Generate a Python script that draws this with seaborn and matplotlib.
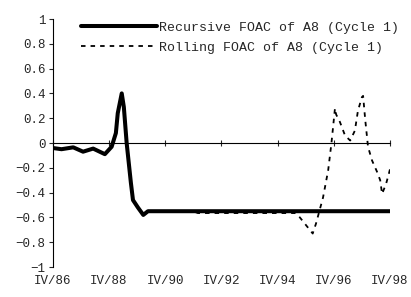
import numpy as np
import pandas as pd
import seaborn as sns
import matplotlib.pyplot as plt

# months since IV/86
rec_month = [0, 3.8, 8.8, 13, 17.3, 22.3, 25.2, 27, 27.8, 29.5, 30.4, 31.6,
             33.4, 34.3, 36.4, 38.7, 40.7, 60, 90, 120, 144]
rec_value = [-0.04, -0.05, -0.035, -0.07, -0.045, -0.09, -0.03, 0.08, 0.24, 0.40, 0.29, 0.0,
             -0.32, -0.46, -0.52, -0.58, -0.55, -0.55, -0.55, -0.55, -0.55]

roll_month = [40.7, 60, 62, 103.5, 105.5, 111, 112.4, 115.4, 117.6, 119, 119.7, 120.5,
              121, 122.6, 124.8, 127, 129, 130.3, 132, 132.5, 133.4, 134.6, 136.3,
              138.4, 139.8, 140.6, 142.3, 143.6, 144.9]
roll_value = [-0.55, -0.55, -0.565, -0.565, -0.60, -0.73, -0.65, -0.44, -0.22, 0.0, 0.13, 0.28,
              0.23, 0.17, 0.06, 0.02, 0.10, 0.26, 0.37, 0.38, 0.19, -0.03, -0.14,
              -0.23, -0.30, -0.41, -0.33, -0.24, -0.14]

tick_months = [0, 24, 48, 72, 96, 120, 144]
tick_labels = ["IV/86", "IV/88", "IV/90", "IV/92", "IV/94", "IV/96", "IV/98"]
y_ticks = [1, 0.8, 0.6, 0.4, 0.2, 0, -0.2, -0.4, -0.6, -0.8, -1]

rec = pd.DataFrame({"month": rec_month, "value": rec_value})
roll = pd.DataFrame({"month": roll_month, "value": roll_value})

sns.set_style("white")
plt.rcParams["font.family"] = ["Liberation Mono", "DejaVu Sans"]

fig = plt.figure(figsize=(4.11, 2.97), dpi=100)
ax = fig.add_axes([0.128, 0.101, 0.821, 0.835])

sns.lineplot(data=rec, x="month", y="value", ax=ax, color="black", lw=2.9,
             label="Recursive FOAC of A8 (Cycle 1)", zorder=3)
sns.lineplot(data=roll, x="month", y="value", ax=ax, color="black", lw=1.3,
             ls=(0, (2.5, 2.8)), label="Rolling FOAC of A8 (Cycle 1)", zorder=4)

ax.set_xlim(0, 144)
ax.set_ylim(-1, 1)
ax.set_xlabel("")
ax.set_ylabel("")
for s in ["top", "right", "bottom"]:
    ax.spines[s].set_visible(False)
ax.spines["left"].set_color("black")
ax.spines["left"].set_linewidth(0.8)

ax.set_yticks(y_ticks)
ax.set_yticklabels([("%g" % v).replace("-", "\u2212") for v in y_ticks], fontsize=9)
ax.tick_params(axis="y", direction="out", length=3, width=0.8, left=True, pad=2)

ax.set_xticks(tick_months)
ax.set_xticklabels(tick_labels, fontsize=9)
ax.tick_params(axis="x", length=0, pad=6)

# zero axis line with ticks
ax2 = ax.twiny()
ax2.set_xlim(0, 144)
ax2.set_xticks(tick_months)
ax2.set_xticklabels([])
for s in ["top", "right", "left"]:
    ax2.spines[s].set_visible(False)
ax2.spines["bottom"].set_visible(True)
ax2.spines["bottom"].set_position(("data", 0))
ax2.spines["bottom"].set_color("black")
ax2.spines["bottom"].set_linewidth(0.8)
ax2.xaxis.set_ticks_position("bottom")
ax2.tick_params(axis="x", direction="inout", length=5, width=0.8, top=False, bottom=True)
ax2.set_zorder(0)
ax.set_zorder(1)
ax.patch.set_visible(False)

leg = ax.legend(loc="upper right", bbox_to_anchor=(1.035, 1.0), frameon=False,
                fontsize=9.5, handlelength=5.8, handletextpad=0.15, labelspacing=0.6,
                borderaxespad=0.0, borderpad=0.2)

fig.savefig("out.png", dpi=100)
